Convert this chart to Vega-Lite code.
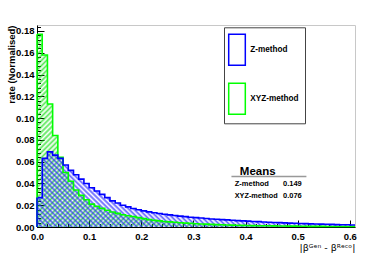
{
"$schema": "https://vega.github.io/schema/vega-lite/v6.json",
"width": 318, "height": 202,
"autosize": "none",
"padding": {"left": 37, "top": 25, "right": 19, "bottom": 26},
"background": "white",
"config": {
  "view": {"stroke": "#c8c8c8", "strokeWidth": 1},
  "font": "Liberation Sans",
  "axis": {"grid": false, "labelFont": "Liberation Sans", "labelColor": "#000", "tickColor": "#000", "domainColor": "#000", "titleColor": "#000", "titleFont": "Liberation Sans", "labelFlush": false, "labelOverlap": false, "labelBound": false}
},
"datasets": {"h": [
{"s":"XYZ-method","x":0,"y":0.177},{"s":"XYZ-method","x":0.01,"y":0.158},{"s":"XYZ-method","x":0.02,"y":0.113},{"s":"XYZ-method","x":0.03,"y":0.084},{"s":"XYZ-method","x":0.04,"y":0.064},{"s":"XYZ-method","x":0.05,"y":0.05},{"s":"XYZ-method","x":0.06,"y":0.042},{"s":"XYZ-method","x":0.07,"y":0.034},{"s":"XYZ-method","x":0.08,"y":0.029},{"s":"XYZ-method","x":0.09,"y":0.025},
{"s":"XYZ-method","x":0.1,"y":0.021},{"s":"XYZ-method","x":0.11,"y":0.019},{"s":"XYZ-method","x":0.12,"y":0.0172},{"s":"XYZ-method","x":0.13,"y":0.0154},{"s":"XYZ-method","x":0.14,"y":0.0138},{"s":"XYZ-method","x":0.15,"y":0.0125},{"s":"XYZ-method","x":0.16,"y":0.0113},{"s":"XYZ-method","x":0.17,"y":0.0104},{"s":"XYZ-method","x":0.18,"y":0.0096},{"s":"XYZ-method","x":0.19,"y":0.0086},
{"s":"XYZ-method","x":0.2,"y":0.0077},{"s":"XYZ-method","x":0.21,"y":0.0068},{"s":"XYZ-method","x":0.22,"y":0.0061},{"s":"XYZ-method","x":0.23,"y":0.0056},{"s":"XYZ-method","x":0.24,"y":0.0051},{"s":"XYZ-method","x":0.25,"y":0.0047},{"s":"XYZ-method","x":0.26,"y":0.0043},{"s":"XYZ-method","x":0.27,"y":0.0039},{"s":"XYZ-method","x":0.28,"y":0.0036},{"s":"XYZ-method","x":0.29,"y":0.0033},
{"s":"XYZ-method","x":0.3,"y":0.003},{"s":"XYZ-method","x":0.31,"y":0.0028},{"s":"XYZ-method","x":0.32,"y":0.0026},{"s":"XYZ-method","x":0.33,"y":0.0024},{"s":"XYZ-method","x":0.34,"y":0.0022},{"s":"XYZ-method","x":0.35,"y":0.002},{"s":"XYZ-method","x":0.36,"y":0.0019},{"s":"XYZ-method","x":0.37,"y":0.0017},{"s":"XYZ-method","x":0.38,"y":0.0016},{"s":"XYZ-method","x":0.39,"y":0.0015},
{"s":"XYZ-method","x":0.4,"y":0.0014},{"s":"XYZ-method","x":0.41,"y":0.0013},{"s":"XYZ-method","x":0.42,"y":0.0012},{"s":"XYZ-method","x":0.43,"y":0.0011},{"s":"XYZ-method","x":0.44,"y":0.0011},{"s":"XYZ-method","x":0.45,"y":0.001},{"s":"XYZ-method","x":0.46,"y":0.0009},{"s":"XYZ-method","x":0.47,"y":0.0009},{"s":"XYZ-method","x":0.48,"y":0.0008},{"s":"XYZ-method","x":0.49,"y":0.0008},
{"s":"XYZ-method","x":0.5,"y":0.0007},{"s":"XYZ-method","x":0.51,"y":0.0007},{"s":"XYZ-method","x":0.52,"y":0.0006},{"s":"XYZ-method","x":0.53,"y":0.0006},{"s":"XYZ-method","x":0.54,"y":0.0006},{"s":"XYZ-method","x":0.55,"y":0.0005},{"s":"XYZ-method","x":0.56,"y":0.0005},{"s":"XYZ-method","x":0.57,"y":0.0005},{"s":"XYZ-method","x":0.58,"y":0.0004},{"s":"XYZ-method","x":0.59,"y":0.0004},
{"s":"XYZ-method","x":0.6,"y":0.0004},{"s":"XYZ-method","x":0.61,"y":0.0004},
{"s":"Z-method","x":0,"y":0.027},{"s":"Z-method","x":0.01,"y":0.063},{"s":"Z-method","x":0.02,"y":0.069},{"s":"Z-method","x":0.03,"y":0.066},{"s":"Z-method","x":0.04,"y":0.063},{"s":"Z-method","x":0.05,"y":0.057},{"s":"Z-method","x":0.06,"y":0.052},{"s":"Z-method","x":0.07,"y":0.048},{"s":"Z-method","x":0.08,"y":0.044},{"s":"Z-method","x":0.09,"y":0.04},
{"s":"Z-method","x":0.1,"y":0.036},{"s":"Z-method","x":0.11,"y":0.033},{"s":"Z-method","x":0.12,"y":0.03},{"s":"Z-method","x":0.13,"y":0.027},{"s":"Z-method","x":0.14,"y":0.024},{"s":"Z-method","x":0.15,"y":0.022},{"s":"Z-method","x":0.16,"y":0.02},{"s":"Z-method","x":0.17,"y":0.0185},{"s":"Z-method","x":0.18,"y":0.017},{"s":"Z-method","x":0.19,"y":0.0158},
{"s":"Z-method","x":0.2,"y":0.0148},{"s":"Z-method","x":0.21,"y":0.0139},{"s":"Z-method","x":0.22,"y":0.0131},{"s":"Z-method","x":0.23,"y":0.0124},{"s":"Z-method","x":0.24,"y":0.0117},{"s":"Z-method","x":0.25,"y":0.0111},{"s":"Z-method","x":0.26,"y":0.0105},{"s":"Z-method","x":0.27,"y":0.01},{"s":"Z-method","x":0.28,"y":0.0095},{"s":"Z-method","x":0.29,"y":0.009},
{"s":"Z-method","x":0.3,"y":0.0086},{"s":"Z-method","x":0.31,"y":0.0082},{"s":"Z-method","x":0.32,"y":0.0078},{"s":"Z-method","x":0.33,"y":0.0074},{"s":"Z-method","x":0.34,"y":0.0071},{"s":"Z-method","x":0.35,"y":0.0068},{"s":"Z-method","x":0.36,"y":0.0065},{"s":"Z-method","x":0.37,"y":0.0062},{"s":"Z-method","x":0.38,"y":0.0059},{"s":"Z-method","x":0.39,"y":0.0056},
{"s":"Z-method","x":0.4,"y":0.0054},{"s":"Z-method","x":0.41,"y":0.0051},{"s":"Z-method","x":0.42,"y":0.0049},{"s":"Z-method","x":0.43,"y":0.0046},{"s":"Z-method","x":0.44,"y":0.0044},{"s":"Z-method","x":0.45,"y":0.0042},{"s":"Z-method","x":0.46,"y":0.004},{"s":"Z-method","x":0.47,"y":0.0038},{"s":"Z-method","x":0.48,"y":0.0036},{"s":"Z-method","x":0.49,"y":0.0034},
{"s":"Z-method","x":0.5,"y":0.0032},{"s":"Z-method","x":0.51,"y":0.0031},{"s":"Z-method","x":0.52,"y":0.0029},{"s":"Z-method","x":0.53,"y":0.0028},{"s":"Z-method","x":0.54,"y":0.0026},{"s":"Z-method","x":0.55,"y":0.0025},{"s":"Z-method","x":0.56,"y":0.0024},{"s":"Z-method","x":0.57,"y":0.0022},{"s":"Z-method","x":0.58,"y":0.0021},{"s":"Z-method","x":0.59,"y":0.002},
{"s":"Z-method","x":0.6,"y":0.0019},{"s":"Z-method","x":0.61,"y":0.0019}
],
"one": [{}]},
"data": {"name": "h"},
"resolve": {"axis": {"x": "independent", "y": "independent"}},
"layer": [
{
 "transform": [{"filter": "datum.s == 'XYZ-method'"}],
 "mark": {"type": "area", "interpolate": "step-after", "fill": {"gradient": "linear", "x1": 0, "y1": 0, "x2": 1.1746, "y2": 0.7122, "stops": [
{"offset":0,"color":"rgba(0,220,0,0.65)"},{"offset":0.005,"color":"rgba(0,220,0,0)"},{"offset":0.01,"color":"rgba(0,220,0,0.65)"},{"offset":0.015,"color":"rgba(0,220,0,0)"},{"offset":0.02,"color":"rgba(0,220,0,0.65)"},{"offset":0.025,"color":"rgba(0,220,0,0)"},{"offset":0.03,"color":"rgba(0,220,0,0.65)"},{"offset":0.035,"color":"rgba(0,220,0,0)"},{"offset":0.04,"color":"rgba(0,220,0,0.65)"},{"offset":0.045,"color":"rgba(0,220,0,0)"},
{"offset":0.05,"color":"rgba(0,220,0,0.65)"},{"offset":0.055,"color":"rgba(0,220,0,0)"},{"offset":0.06,"color":"rgba(0,220,0,0.65)"},{"offset":0.065,"color":"rgba(0,220,0,0)"},{"offset":0.07,"color":"rgba(0,220,0,0.65)"},{"offset":0.075,"color":"rgba(0,220,0,0)"},{"offset":0.08,"color":"rgba(0,220,0,0.65)"},{"offset":0.085,"color":"rgba(0,220,0,0)"},{"offset":0.09,"color":"rgba(0,220,0,0.65)"},{"offset":0.095,"color":"rgba(0,220,0,0)"},
{"offset":0.1,"color":"rgba(0,220,0,0.65)"},{"offset":0.105,"color":"rgba(0,220,0,0)"},{"offset":0.11,"color":"rgba(0,220,0,0.65)"},{"offset":0.115,"color":"rgba(0,220,0,0)"},{"offset":0.12,"color":"rgba(0,220,0,0.65)"},{"offset":0.125,"color":"rgba(0,220,0,0)"},{"offset":0.13,"color":"rgba(0,220,0,0.65)"},{"offset":0.135,"color":"rgba(0,220,0,0)"},{"offset":0.14,"color":"rgba(0,220,0,0.65)"},{"offset":0.145,"color":"rgba(0,220,0,0)"},
{"offset":0.15,"color":"rgba(0,220,0,0.65)"},{"offset":0.155,"color":"rgba(0,220,0,0)"},{"offset":0.16,"color":"rgba(0,220,0,0.65)"},{"offset":0.165,"color":"rgba(0,220,0,0)"},{"offset":0.17,"color":"rgba(0,220,0,0.65)"},{"offset":0.175,"color":"rgba(0,220,0,0)"},{"offset":0.18,"color":"rgba(0,220,0,0.65)"},{"offset":0.185,"color":"rgba(0,220,0,0)"},{"offset":0.19,"color":"rgba(0,220,0,0.65)"},{"offset":0.195,"color":"rgba(0,220,0,0)"},
{"offset":0.2,"color":"rgba(0,220,0,0.65)"},{"offset":0.205,"color":"rgba(0,220,0,0)"},{"offset":0.21,"color":"rgba(0,220,0,0.65)"},{"offset":0.215,"color":"rgba(0,220,0,0)"},{"offset":0.22,"color":"rgba(0,220,0,0.65)"},{"offset":0.225,"color":"rgba(0,220,0,0)"},{"offset":0.23,"color":"rgba(0,220,0,0.65)"},{"offset":0.235,"color":"rgba(0,220,0,0)"},{"offset":0.24,"color":"rgba(0,220,0,0.65)"},{"offset":0.245,"color":"rgba(0,220,0,0)"},
{"offset":0.25,"color":"rgba(0,220,0,0.65)"},{"offset":0.255,"color":"rgba(0,220,0,0)"},{"offset":0.26,"color":"rgba(0,220,0,0.65)"},{"offset":0.265,"color":"rgba(0,220,0,0)"},{"offset":0.27,"color":"rgba(0,220,0,0.65)"},{"offset":0.275,"color":"rgba(0,220,0,0)"},{"offset":0.28,"color":"rgba(0,220,0,0.65)"},{"offset":0.285,"color":"rgba(0,220,0,0)"},{"offset":0.29,"color":"rgba(0,220,0,0.65)"},{"offset":0.295,"color":"rgba(0,220,0,0)"},
{"offset":0.3,"color":"rgba(0,220,0,0.65)"},{"offset":0.305,"color":"rgba(0,220,0,0)"},{"offset":0.31,"color":"rgba(0,220,0,0.65)"},{"offset":0.315,"color":"rgba(0,220,0,0)"},{"offset":0.32,"color":"rgba(0,220,0,0.65)"},{"offset":0.325,"color":"rgba(0,220,0,0)"},{"offset":0.33,"color":"rgba(0,220,0,0.65)"},{"offset":0.335,"color":"rgba(0,220,0,0)"},{"offset":0.34,"color":"rgba(0,220,0,0.65)"},{"offset":0.345,"color":"rgba(0,220,0,0)"},
{"offset":0.35,"color":"rgba(0,220,0,0.65)"},{"offset":0.355,"color":"rgba(0,220,0,0)"},{"offset":0.36,"color":"rgba(0,220,0,0.65)"},{"offset":0.365,"color":"rgba(0,220,0,0)"},{"offset":0.37,"color":"rgba(0,220,0,0.65)"},{"offset":0.375,"color":"rgba(0,220,0,0)"},{"offset":0.38,"color":"rgba(0,220,0,0.65)"},{"offset":0.385,"color":"rgba(0,220,0,0)"},{"offset":0.39,"color":"rgba(0,220,0,0.65)"},{"offset":0.395,"color":"rgba(0,220,0,0)"},
{"offset":0.4,"color":"rgba(0,220,0,0.65)"},{"offset":0.405,"color":"rgba(0,220,0,0)"},{"offset":0.41,"color":"rgba(0,220,0,0.65)"},{"offset":0.415,"color":"rgba(0,220,0,0)"},{"offset":0.42,"color":"rgba(0,220,0,0.65)"},{"offset":0.425,"color":"rgba(0,220,0,0)"},{"offset":0.43,"color":"rgba(0,220,0,0.65)"},{"offset":0.435,"color":"rgba(0,220,0,0)"},{"offset":0.44,"color":"rgba(0,220,0,0.65)"},{"offset":0.445,"color":"rgba(0,220,0,0)"},
{"offset":0.45,"color":"rgba(0,220,0,0.65)"},{"offset":0.455,"color":"rgba(0,220,0,0)"},{"offset":0.46,"color":"rgba(0,220,0,0.65)"},{"offset":0.465,"color":"rgba(0,220,0,0)"},{"offset":0.47,"color":"rgba(0,220,0,0.65)"},{"offset":0.475,"color":"rgba(0,220,0,0)"},{"offset":0.48,"color":"rgba(0,220,0,0.65)"},{"offset":0.485,"color":"rgba(0,220,0,0)"},{"offset":0.49,"color":"rgba(0,220,0,0.65)"},{"offset":0.495,"color":"rgba(0,220,0,0)"},
{"offset":0.5,"color":"rgba(0,220,0,0.65)"},{"offset":0.505,"color":"rgba(0,220,0,0)"},{"offset":0.51,"color":"rgba(0,220,0,0.65)"},{"offset":0.515,"color":"rgba(0,220,0,0)"},{"offset":0.52,"color":"rgba(0,220,0,0.65)"},{"offset":0.525,"color":"rgba(0,220,0,0)"},{"offset":0.53,"color":"rgba(0,220,0,0.65)"},{"offset":0.535,"color":"rgba(0,220,0,0)"},{"offset":0.54,"color":"rgba(0,220,0,0.65)"},{"offset":0.545,"color":"rgba(0,220,0,0)"},
{"offset":0.55,"color":"rgba(0,220,0,0.65)"},{"offset":0.555,"color":"rgba(0,220,0,0)"},{"offset":0.56,"color":"rgba(0,220,0,0.65)"},{"offset":0.565,"color":"rgba(0,220,0,0)"},{"offset":0.57,"color":"rgba(0,220,0,0.65)"},{"offset":0.575,"color":"rgba(0,220,0,0)"},{"offset":0.58,"color":"rgba(0,220,0,0.65)"},{"offset":0.585,"color":"rgba(0,220,0,0)"},{"offset":0.59,"color":"rgba(0,220,0,0.65)"},{"offset":0.595,"color":"rgba(0,220,0,0)"},
{"offset":0.6,"color":"rgba(0,220,0,0.65)"},{"offset":0.605,"color":"rgba(0,220,0,0)"},{"offset":0.61,"color":"rgba(0,220,0,0.65)"},{"offset":0.615,"color":"rgba(0,220,0,0)"},{"offset":0.62,"color":"rgba(0,220,0,0.65)"},{"offset":0.625,"color":"rgba(0,220,0,0)"},{"offset":0.63,"color":"rgba(0,220,0,0.65)"},{"offset":0.635,"color":"rgba(0,220,0,0)"},{"offset":0.64,"color":"rgba(0,220,0,0.65)"},{"offset":0.645,"color":"rgba(0,220,0,0)"},
{"offset":0.65,"color":"rgba(0,220,0,0.65)"},{"offset":0.655,"color":"rgba(0,220,0,0)"},{"offset":0.66,"color":"rgba(0,220,0,0.65)"},{"offset":0.665,"color":"rgba(0,220,0,0)"},{"offset":0.67,"color":"rgba(0,220,0,0.65)"},{"offset":0.675,"color":"rgba(0,220,0,0)"},{"offset":0.68,"color":"rgba(0,220,0,0.65)"},{"offset":0.685,"color":"rgba(0,220,0,0)"},{"offset":0.69,"color":"rgba(0,220,0,0.65)"},{"offset":0.695,"color":"rgba(0,220,0,0)"},
{"offset":0.7,"color":"rgba(0,220,0,0.65)"},{"offset":0.705,"color":"rgba(0,220,0,0)"},{"offset":0.71,"color":"rgba(0,220,0,0.65)"},{"offset":0.715,"color":"rgba(0,220,0,0)"},{"offset":0.72,"color":"rgba(0,220,0,0.65)"},{"offset":0.725,"color":"rgba(0,220,0,0)"},{"offset":0.73,"color":"rgba(0,220,0,0.65)"},{"offset":0.735,"color":"rgba(0,220,0,0)"},{"offset":0.74,"color":"rgba(0,220,0,0.65)"},{"offset":0.745,"color":"rgba(0,220,0,0)"},
{"offset":0.75,"color":"rgba(0,220,0,0.65)"},{"offset":0.755,"color":"rgba(0,220,0,0)"},{"offset":0.76,"color":"rgba(0,220,0,0.65)"},{"offset":0.765,"color":"rgba(0,220,0,0)"},{"offset":0.77,"color":"rgba(0,220,0,0.65)"},{"offset":0.775,"color":"rgba(0,220,0,0)"},{"offset":0.78,"color":"rgba(0,220,0,0.65)"},{"offset":0.785,"color":"rgba(0,220,0,0)"},{"offset":0.79,"color":"rgba(0,220,0,0.65)"},{"offset":0.795,"color":"rgba(0,220,0,0)"},
{"offset":0.8,"color":"rgba(0,220,0,0.65)"},{"offset":0.805,"color":"rgba(0,220,0,0)"},{"offset":0.81,"color":"rgba(0,220,0,0.65)"},{"offset":0.815,"color":"rgba(0,220,0,0)"},{"offset":0.82,"color":"rgba(0,220,0,0.65)"},{"offset":0.825,"color":"rgba(0,220,0,0)"},{"offset":0.83,"color":"rgba(0,220,0,0.65)"},{"offset":0.835,"color":"rgba(0,220,0,0)"},{"offset":0.84,"color":"rgba(0,220,0,0.65)"},{"offset":0.845,"color":"rgba(0,220,0,0)"},
{"offset":0.85,"color":"rgba(0,220,0,0.65)"},{"offset":0.855,"color":"rgba(0,220,0,0)"},{"offset":0.86,"color":"rgba(0,220,0,0.65)"},{"offset":0.865,"color":"rgba(0,220,0,0)"},{"offset":0.87,"color":"rgba(0,220,0,0.65)"},{"offset":0.875,"color":"rgba(0,220,0,0)"},{"offset":0.88,"color":"rgba(0,220,0,0.65)"},{"offset":0.885,"color":"rgba(0,220,0,0)"},{"offset":0.89,"color":"rgba(0,220,0,0.65)"},{"offset":0.895,"color":"rgba(0,220,0,0)"},
{"offset":0.9,"color":"rgba(0,220,0,0.65)"},{"offset":0.905,"color":"rgba(0,220,0,0)"},{"offset":0.91,"color":"rgba(0,220,0,0.65)"},{"offset":0.915,"color":"rgba(0,220,0,0)"},{"offset":0.92,"color":"rgba(0,220,0,0.65)"},{"offset":0.925,"color":"rgba(0,220,0,0)"},{"offset":0.93,"color":"rgba(0,220,0,0.65)"},{"offset":0.935,"color":"rgba(0,220,0,0)"},{"offset":0.94,"color":"rgba(0,220,0,0.65)"},{"offset":0.945,"color":"rgba(0,220,0,0)"},
{"offset":0.95,"color":"rgba(0,220,0,0.65)"},{"offset":0.955,"color":"rgba(0,220,0,0)"},{"offset":0.96,"color":"rgba(0,220,0,0.65)"},{"offset":0.965,"color":"rgba(0,220,0,0)"},{"offset":0.97,"color":"rgba(0,220,0,0.65)"},{"offset":0.975,"color":"rgba(0,220,0,0)"},{"offset":0.98,"color":"rgba(0,220,0,0.65)"},{"offset":0.985,"color":"rgba(0,220,0,0)"},{"offset":0.99,"color":"rgba(0,220,0,0.65)"},{"offset":0.995,"color":"rgba(0,220,0,0)"},
{"offset":1,"color":"rgba(0,220,0,0.65)"}
 ]}},
 "encoding": {
  "x": {"field": "x", "type": "quantitative", "scale": {"domain": [0, 0.61], "nice": false, "zero": false},
        "axis": {"orient": "bottom", "values": [0, 0.1, 0.2, 0.3, 0.4, 0.5, 0.6], "format": ".1f", "ticks": false, "tickSize": 0, "domain": true, "domainWidth": 1, "labelFontSize": 9.5, "labelFontWeight": "bold", "labelPadding": 4,
                 "title": "|βᴳᵉⁿ - βᴿᵉᶜᵒ|", "titleFont": "DejaVu Sans", "titleFontSize": 9.5, "titleFontWeight": "normal", "titleX": 318, "titleY": 23, "titleAlign": "right", "titleBaseline": "alphabetic", "titleAnchor": "end"}},
  "y": {"field": "y", "type": "quantitative", "scale": {"domain": [0, 0.1855], "nice": false, "zero": false},
        "axis": {"orient": "left", "values": [0, 0.02, 0.04, 0.06, 0.08, 0.1, 0.12, 0.14, 0.16, 0.18], "format": ".2f", "ticks": false, "tickSize": 0, "domain": true, "domainWidth": 1, "labelFontSize": 9.5, "labelFontWeight": "bold", "labelPadding": 3,
                 "title": "rate (Normalised)", "titleFontSize": 9.5, "titleFontWeight": "bold", "titleX": -22.5, "titleY": 0, "titleAngle": 270, "titleAlign": "right", "titleBaseline": "alphabetic", "titleAnchor": "end"}}
 }
},
{
 "transform": [{"filter": "datum.s == 'Z-method'"}],
 "mark": {"type": "area", "interpolate": "step-after", "fill": {"gradient": "linear", "x1": 0, "y1": 1.655, "x2": 1.4867, "y2": 1.298, "stops": [
{"offset":0,"color":"rgba(30,30,255,0.7)"},{"offset":0.005,"color":"rgba(30,30,255,0)"},{"offset":0.01,"color":"rgba(30,30,255,0.7)"},{"offset":0.015,"color":"rgba(30,30,255,0)"},{"offset":0.02,"color":"rgba(30,30,255,0.7)"},{"offset":0.025,"color":"rgba(30,30,255,0)"},{"offset":0.03,"color":"rgba(30,30,255,0.7)"},{"offset":0.035,"color":"rgba(30,30,255,0)"},{"offset":0.04,"color":"rgba(30,30,255,0.7)"},{"offset":0.045,"color":"rgba(30,30,255,0)"},
{"offset":0.05,"color":"rgba(30,30,255,0.7)"},{"offset":0.055,"color":"rgba(30,30,255,0)"},{"offset":0.06,"color":"rgba(30,30,255,0.7)"},{"offset":0.065,"color":"rgba(30,30,255,0)"},{"offset":0.07,"color":"rgba(30,30,255,0.7)"},{"offset":0.075,"color":"rgba(30,30,255,0)"},{"offset":0.08,"color":"rgba(30,30,255,0.7)"},{"offset":0.085,"color":"rgba(30,30,255,0)"},{"offset":0.09,"color":"rgba(30,30,255,0.7)"},{"offset":0.095,"color":"rgba(30,30,255,0)"},
{"offset":0.1,"color":"rgba(30,30,255,0.7)"},{"offset":0.105,"color":"rgba(30,30,255,0)"},{"offset":0.11,"color":"rgba(30,30,255,0.7)"},{"offset":0.115,"color":"rgba(30,30,255,0)"},{"offset":0.12,"color":"rgba(30,30,255,0.7)"},{"offset":0.125,"color":"rgba(30,30,255,0)"},{"offset":0.13,"color":"rgba(30,30,255,0.7)"},{"offset":0.135,"color":"rgba(30,30,255,0)"},{"offset":0.14,"color":"rgba(30,30,255,0.7)"},{"offset":0.145,"color":"rgba(30,30,255,0)"},
{"offset":0.15,"color":"rgba(30,30,255,0.7)"},{"offset":0.155,"color":"rgba(30,30,255,0)"},{"offset":0.16,"color":"rgba(30,30,255,0.7)"},{"offset":0.165,"color":"rgba(30,30,255,0)"},{"offset":0.17,"color":"rgba(30,30,255,0.7)"},{"offset":0.175,"color":"rgba(30,30,255,0)"},{"offset":0.18,"color":"rgba(30,30,255,0.7)"},{"offset":0.185,"color":"rgba(30,30,255,0)"},{"offset":0.19,"color":"rgba(30,30,255,0.7)"},{"offset":0.195,"color":"rgba(30,30,255,0)"},
{"offset":0.2,"color":"rgba(30,30,255,0.7)"},{"offset":0.205,"color":"rgba(30,30,255,0)"},{"offset":0.21,"color":"rgba(30,30,255,0.7)"},{"offset":0.215,"color":"rgba(30,30,255,0)"},{"offset":0.22,"color":"rgba(30,30,255,0.7)"},{"offset":0.225,"color":"rgba(30,30,255,0)"},{"offset":0.23,"color":"rgba(30,30,255,0.7)"},{"offset":0.235,"color":"rgba(30,30,255,0)"},{"offset":0.24,"color":"rgba(30,30,255,0.7)"},{"offset":0.245,"color":"rgba(30,30,255,0)"},
{"offset":0.25,"color":"rgba(30,30,255,0.7)"},{"offset":0.255,"color":"rgba(30,30,255,0)"},{"offset":0.26,"color":"rgba(30,30,255,0.7)"},{"offset":0.265,"color":"rgba(30,30,255,0)"},{"offset":0.27,"color":"rgba(30,30,255,0.7)"},{"offset":0.275,"color":"rgba(30,30,255,0)"},{"offset":0.28,"color":"rgba(30,30,255,0.7)"},{"offset":0.285,"color":"rgba(30,30,255,0)"},{"offset":0.29,"color":"rgba(30,30,255,0.7)"},{"offset":0.295,"color":"rgba(30,30,255,0)"},
{"offset":0.3,"color":"rgba(30,30,255,0.7)"},{"offset":0.305,"color":"rgba(30,30,255,0)"},{"offset":0.31,"color":"rgba(30,30,255,0.7)"},{"offset":0.315,"color":"rgba(30,30,255,0)"},{"offset":0.32,"color":"rgba(30,30,255,0.7)"},{"offset":0.325,"color":"rgba(30,30,255,0)"},{"offset":0.33,"color":"rgba(30,30,255,0.7)"},{"offset":0.335,"color":"rgba(30,30,255,0)"},{"offset":0.34,"color":"rgba(30,30,255,0.7)"},{"offset":0.345,"color":"rgba(30,30,255,0)"},
{"offset":0.35,"color":"rgba(30,30,255,0.7)"},{"offset":0.355,"color":"rgba(30,30,255,0)"},{"offset":0.36,"color":"rgba(30,30,255,0.7)"},{"offset":0.365,"color":"rgba(30,30,255,0)"},{"offset":0.37,"color":"rgba(30,30,255,0.7)"},{"offset":0.375,"color":"rgba(30,30,255,0)"},{"offset":0.38,"color":"rgba(30,30,255,0.7)"},{"offset":0.385,"color":"rgba(30,30,255,0)"},{"offset":0.39,"color":"rgba(30,30,255,0.7)"},{"offset":0.395,"color":"rgba(30,30,255,0)"},
{"offset":0.4,"color":"rgba(30,30,255,0.7)"},{"offset":0.405,"color":"rgba(30,30,255,0)"},{"offset":0.41,"color":"rgba(30,30,255,0.7)"},{"offset":0.415,"color":"rgba(30,30,255,0)"},{"offset":0.42,"color":"rgba(30,30,255,0.7)"},{"offset":0.425,"color":"rgba(30,30,255,0)"},{"offset":0.43,"color":"rgba(30,30,255,0.7)"},{"offset":0.435,"color":"rgba(30,30,255,0)"},{"offset":0.44,"color":"rgba(30,30,255,0.7)"},{"offset":0.445,"color":"rgba(30,30,255,0)"},
{"offset":0.45,"color":"rgba(30,30,255,0.7)"},{"offset":0.455,"color":"rgba(30,30,255,0)"},{"offset":0.46,"color":"rgba(30,30,255,0.7)"},{"offset":0.465,"color":"rgba(30,30,255,0)"},{"offset":0.47,"color":"rgba(30,30,255,0.7)"},{"offset":0.475,"color":"rgba(30,30,255,0)"},{"offset":0.48,"color":"rgba(30,30,255,0.7)"},{"offset":0.485,"color":"rgba(30,30,255,0)"},{"offset":0.49,"color":"rgba(30,30,255,0.7)"},{"offset":0.495,"color":"rgba(30,30,255,0)"},
{"offset":0.5,"color":"rgba(30,30,255,0.7)"},{"offset":0.505,"color":"rgba(30,30,255,0)"},{"offset":0.51,"color":"rgba(30,30,255,0.7)"},{"offset":0.515,"color":"rgba(30,30,255,0)"},{"offset":0.52,"color":"rgba(30,30,255,0.7)"},{"offset":0.525,"color":"rgba(30,30,255,0)"},{"offset":0.53,"color":"rgba(30,30,255,0.7)"},{"offset":0.535,"color":"rgba(30,30,255,0)"},{"offset":0.54,"color":"rgba(30,30,255,0.7)"},{"offset":0.545,"color":"rgba(30,30,255,0)"},
{"offset":0.55,"color":"rgba(30,30,255,0.7)"},{"offset":0.555,"color":"rgba(30,30,255,0)"},{"offset":0.56,"color":"rgba(30,30,255,0.7)"},{"offset":0.565,"color":"rgba(30,30,255,0)"},{"offset":0.57,"color":"rgba(30,30,255,0.7)"},{"offset":0.575,"color":"rgba(30,30,255,0)"},{"offset":0.58,"color":"rgba(30,30,255,0.7)"},{"offset":0.585,"color":"rgba(30,30,255,0)"},{"offset":0.59,"color":"rgba(30,30,255,0.7)"},{"offset":0.595,"color":"rgba(30,30,255,0)"},
{"offset":0.6,"color":"rgba(30,30,255,0.7)"},{"offset":0.605,"color":"rgba(30,30,255,0)"},{"offset":0.61,"color":"rgba(30,30,255,0.7)"},{"offset":0.615,"color":"rgba(30,30,255,0)"},{"offset":0.62,"color":"rgba(30,30,255,0.7)"},{"offset":0.625,"color":"rgba(30,30,255,0)"},{"offset":0.63,"color":"rgba(30,30,255,0.7)"},{"offset":0.635,"color":"rgba(30,30,255,0)"},{"offset":0.64,"color":"rgba(30,30,255,0.7)"},{"offset":0.645,"color":"rgba(30,30,255,0)"},
{"offset":0.65,"color":"rgba(30,30,255,0.7)"},{"offset":0.655,"color":"rgba(30,30,255,0)"},{"offset":0.66,"color":"rgba(30,30,255,0.7)"},{"offset":0.665,"color":"rgba(30,30,255,0)"},{"offset":0.67,"color":"rgba(30,30,255,0.7)"},{"offset":0.675,"color":"rgba(30,30,255,0)"},{"offset":0.68,"color":"rgba(30,30,255,0.7)"},{"offset":0.685,"color":"rgba(30,30,255,0)"},{"offset":0.69,"color":"rgba(30,30,255,0.7)"},{"offset":0.695,"color":"rgba(30,30,255,0)"},
{"offset":0.7,"color":"rgba(30,30,255,0.7)"},{"offset":0.705,"color":"rgba(30,30,255,0)"},{"offset":0.71,"color":"rgba(30,30,255,0.7)"},{"offset":0.715,"color":"rgba(30,30,255,0)"},{"offset":0.72,"color":"rgba(30,30,255,0.7)"},{"offset":0.725,"color":"rgba(30,30,255,0)"},{"offset":0.73,"color":"rgba(30,30,255,0.7)"},{"offset":0.735,"color":"rgba(30,30,255,0)"},{"offset":0.74,"color":"rgba(30,30,255,0.7)"},{"offset":0.745,"color":"rgba(30,30,255,0)"},
{"offset":0.75,"color":"rgba(30,30,255,0.7)"},{"offset":0.755,"color":"rgba(30,30,255,0)"},{"offset":0.76,"color":"rgba(30,30,255,0.7)"},{"offset":0.765,"color":"rgba(30,30,255,0)"},{"offset":0.77,"color":"rgba(30,30,255,0.7)"},{"offset":0.775,"color":"rgba(30,30,255,0)"},{"offset":0.78,"color":"rgba(30,30,255,0.7)"},{"offset":0.785,"color":"rgba(30,30,255,0)"},{"offset":0.79,"color":"rgba(30,30,255,0.7)"},{"offset":0.795,"color":"rgba(30,30,255,0)"},
{"offset":0.8,"color":"rgba(30,30,255,0.7)"},{"offset":0.805,"color":"rgba(30,30,255,0)"},{"offset":0.81,"color":"rgba(30,30,255,0.7)"},{"offset":0.815,"color":"rgba(30,30,255,0)"},{"offset":0.82,"color":"rgba(30,30,255,0.7)"},{"offset":0.825,"color":"rgba(30,30,255,0)"},{"offset":0.83,"color":"rgba(30,30,255,0.7)"},{"offset":0.835,"color":"rgba(30,30,255,0)"},{"offset":0.84,"color":"rgba(30,30,255,0.7)"},{"offset":0.845,"color":"rgba(30,30,255,0)"},
{"offset":0.85,"color":"rgba(30,30,255,0.7)"},{"offset":0.855,"color":"rgba(30,30,255,0)"},{"offset":0.86,"color":"rgba(30,30,255,0.7)"},{"offset":0.865,"color":"rgba(30,30,255,0)"},{"offset":0.87,"color":"rgba(30,30,255,0.7)"},{"offset":0.875,"color":"rgba(30,30,255,0)"},{"offset":0.88,"color":"rgba(30,30,255,0.7)"},{"offset":0.885,"color":"rgba(30,30,255,0)"},{"offset":0.89,"color":"rgba(30,30,255,0.7)"},{"offset":0.895,"color":"rgba(30,30,255,0)"},
{"offset":0.9,"color":"rgba(30,30,255,0.7)"},{"offset":0.905,"color":"rgba(30,30,255,0)"},{"offset":0.91,"color":"rgba(30,30,255,0.7)"},{"offset":0.915,"color":"rgba(30,30,255,0)"},{"offset":0.92,"color":"rgba(30,30,255,0.7)"},{"offset":0.925,"color":"rgba(30,30,255,0)"},{"offset":0.93,"color":"rgba(30,30,255,0.7)"},{"offset":0.935,"color":"rgba(30,30,255,0)"},{"offset":0.94,"color":"rgba(30,30,255,0.7)"},{"offset":0.945,"color":"rgba(30,30,255,0)"},
{"offset":0.95,"color":"rgba(30,30,255,0.7)"},{"offset":0.955,"color":"rgba(30,30,255,0)"},{"offset":0.96,"color":"rgba(30,30,255,0.7)"},{"offset":0.965,"color":"rgba(30,30,255,0)"},{"offset":0.97,"color":"rgba(30,30,255,0.7)"},{"offset":0.975,"color":"rgba(30,30,255,0)"},{"offset":0.98,"color":"rgba(30,30,255,0.7)"},{"offset":0.985,"color":"rgba(30,30,255,0)"},{"offset":0.99,"color":"rgba(30,30,255,0.7)"},{"offset":0.995,"color":"rgba(30,30,255,0)"},
{"offset":1,"color":"rgba(30,30,255,0.7)"}
 ]}},
 "encoding": {
  "x": {"field": "x", "type": "quantitative", "scale": {"domain": [0, 0.61], "nice": false, "zero": false}, "axis": null},
  "y": {"field": "y", "type": "quantitative", "scale": {"domain": [0, 0.1855], "nice": false, "zero": false}, "axis": null}
 }
},
{
 "mark": {"type": "line", "interpolate": "step-after", "strokeWidth": 1.6},
 "encoding": {
  "x": {"field": "x", "type": "quantitative", "scale": {"domain": [0, 0.61], "nice": false, "zero": false},
        "axis": {"orient": "top", "offset": -202, "values": [0, 0.1, 0.2, 0.3, 0.4, 0.5, 0.6], "labels": false, "domain": false, "ticks": true, "tickSize": 7, "tickWidth": 1, "title": null}},
  "y": {"field": "y", "type": "quantitative", "scale": {"domain": [0, 0.1855], "nice": false, "zero": false},
        "axis": {"orient": "right", "offset": -318, "values": [0, 0.02, 0.04, 0.06, 0.08, 0.1, 0.12, 0.14, 0.16, 0.18], "labels": false, "domain": false, "ticks": true, "tickSize": 7, "tickWidth": 1, "title": null}},
  "color": {"field": "s", "type": "nominal", "scale": {"domain": ["Z-method", "XYZ-method"], "range": ["#0000ff", "#00ff00"]},
        "legend": {"orient": "none", "legendX": 187, "legendY": 2.3, "title": null, "padding": 6, "rowPadding": 12,
                   "symbolType": "M-1.148,-1H-0.077V1H-1.148Z", "symbolSize": 961, "symbolStrokeWidth": 1.5, "symbolFillColor": "#ffffff",
                   "labelOffset": -12.7, "labelFont": "Liberation Sans", "labelFontSize": 8.2, "labelFontWeight": "bold", "labelColor": "#000",
                   "labelExpr": "datum.label + '\u00a0\u00a0\u00a0\u00a0\u00a0\u00a0\u00a0'",
                   "fillColor": "#ffffff", "strokeColor": "#444444"}}
 }
},
{
 "transform": [{"filter": "datum.x == 0"}],
 "mark": {"type": "rule", "strokeWidth": 1.6},
 "encoding": {
  "x": {"field": "x", "type": "quantitative", "scale": {"domain": [0, 0.61], "nice": false, "zero": false},
        "axis": {"orient": "top", "offset": -202, "values": [0.02,0.04,0.06,0.08,0.12,0.14,0.16,0.18,0.22,0.24,0.26,0.28,0.32,0.34,0.36,0.38,0.42,0.44,0.46,0.48,0.52,0.54,0.56,0.58], "labels": false, "domain": false, "ticks": true, "tickSize": 3.5, "tickWidth": 1, "title": null}},
  "y": {"field": "y", "type": "quantitative", "scale": {"domain": [0, 0.1855], "nice": false, "zero": false},
        "axis": {"orient": "right", "offset": -318, "values": [0.004,0.008,0.012,0.016,0.024,0.028,0.032,0.036,0.044,0.048,0.052,0.056,0.064,0.068,0.072,0.076,0.084,0.088,0.092,0.096,0.104,0.108,0.112,0.116,0.124,0.128,0.132,0.136,0.144,0.148,0.152,0.156,0.164,0.168,0.172,0.176,0.184], "labels": false, "domain": false, "ticks": true, "tickSize": 3.5, "tickWidth": 1, "title": null}},
  "y2": {"datum": 0},
  "color": {"condition": {"test": "datum.s == 'Z-method'", "value": "#0000ff"}, "value": "#00ff00"}
 }
},
{
 "data": {"name": "one"},
 "mark": {"type": "text", "text": "Means", "font": "Liberation Sans", "fontSize": 11.5, "fontWeight": "bold", "align": "center", "baseline": "alphabetic", "color": "#000"},
 "encoding": {
  "x": {"datum": 0.4234, "type": "quantitative", "scale": {"domain": [0, 0.61], "nice": false, "zero": false}, "axis": null},
  "y": {"datum": 0.048, "type": "quantitative", "scale": {"domain": [0, 0.1855], "nice": false, "zero": false}, "axis": null}
 }
},
{
 "data": {"name": "one"},
 "mark": {"type": "rule", "color": "#999999", "strokeWidth": 1.5},
 "encoding": {
  "x": {"datum": 0.373, "type": "quantitative", "scale": {"domain": [0, 0.61], "nice": false, "zero": false}, "axis": null},
  "x2": {"datum": 0.5168},
  "y": {"datum": 0.0464, "type": "quantitative", "scale": {"domain": [0, 0.1855], "nice": false, "zero": false}, "axis": null}
 }
},
{
 "data": {"name": "one"},
 "mark": {"type": "text", "text": "Z-method", "font": "Liberation Sans", "fontSize": 7.5, "fontWeight": "bold", "align": "left", "baseline": "alphabetic", "color": "#000"},
 "encoding": {
  "x": {"datum": 0.3793, "type": "quantitative", "scale": {"domain": [0, 0.61], "nice": false, "zero": false}, "axis": null},
  "y": {"datum": 0.0379, "type": "quantitative", "scale": {"domain": [0, 0.1855], "nice": false, "zero": false}, "axis": null}
 }
},
{
 "data": {"name": "one"},
 "mark": {"type": "text", "text": "0.149", "font": "Liberation Sans", "fontSize": 7.5, "fontWeight": "bold", "align": "left", "baseline": "alphabetic", "color": "#000"},
 "encoding": {
  "x": {"datum": 0.4719, "type": "quantitative", "scale": {"domain": [0, 0.61], "nice": false, "zero": false}, "axis": null},
  "y": {"datum": 0.0379, "type": "quantitative", "scale": {"domain": [0, 0.1855], "nice": false, "zero": false}, "axis": null}
 }
},
{
 "data": {"name": "one"},
 "mark": {"type": "text", "text": "XYZ-method", "font": "Liberation Sans", "fontSize": 7.3, "fontWeight": "bold", "align": "left", "baseline": "alphabetic", "color": "#000"},
 "encoding": {
  "x": {"datum": 0.3793, "type": "quantitative", "scale": {"domain": [0, 0.61], "nice": false, "zero": false}, "axis": null},
  "y": {"datum": 0.0266, "type": "quantitative", "scale": {"domain": [0, 0.1855], "nice": false, "zero": false}, "axis": null}
 }
},
{
 "data": {"name": "one"},
 "mark": {"type": "text", "text": "0.076", "font": "Liberation Sans", "fontSize": 7.5, "fontWeight": "bold", "align": "left", "baseline": "alphabetic", "color": "#000"},
 "encoding": {
  "x": {"datum": 0.4719, "type": "quantitative", "scale": {"domain": [0, 0.61], "nice": false, "zero": false}, "axis": null},
  "y": {"datum": 0.0266, "type": "quantitative", "scale": {"domain": [0, 0.1855], "nice": false, "zero": false}, "axis": null}
 }
}
]
}
